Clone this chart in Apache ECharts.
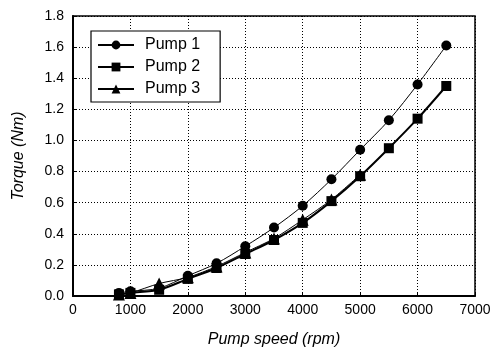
<!DOCTYPE html>
<html>
<head>
<meta charset="utf-8">
<script src="https://cdn.jsdelivr.net/npm/echarts@6/dist/echarts.min.js"></script>
<style>
  html, body { margin: 0; padding: 0; background: #fff; }
  #chart { width: 497px; height: 349px; }
</style>
</head>
<body>
<div id="chart"></div>
<script>
  // pump speed (rpm)
  const speed = [800, 1000, 1500, 2000, 2500, 3000, 3500, 4000, 4500, 5000, 5500, 6000, 6500]
  // torque (Nm)
  const pump1 = [0.02, 0.03, 0.05, 0.13, 0.21, 0.32, 0.44, 0.58, 0.75, 0.94, 1.13, 1.36, 1.61]
  const pump2 = [0.01, 0.02, 0.04, 0.11, 0.18, 0.27, 0.36, 0.47, 0.61, 0.77, 0.95, 1.14, 1.35]
  const pump3 = [0.01, 0.02, 0.08, 0.12, 0.19, 0.28, 0.37, 0.49, 0.62, 0.78]

  const names = ['Pump 1', 'Pump 2', 'Pump 3']
  const symbols = ['circle', 'rect', 'triangle']
  const widths = [1, 2, 1]

  function pairs(ys) {
    return ys.map(function (y, i) { return [speed[i], y] })
  }

  const chart = echarts.init(document.getElementById('chart'))
  const font = 'Liberation Sans, Arial, sans-serif'
  const dots = { color: '#000', type: [1, 2], width: 1 }

  chart.setOption({
    animation: false,
    backgroundColor: '#fff',
    textStyle: { fontFamily: font, color: '#000' },
    grid: {
      left: 73,
      right: 22,
      top: 16,
      bottom: 53,
      outerBoundsMode: 'none',
      containLabel: false,
      show: true,
      borderColor: '#000',
      borderWidth: 1.5
    },
    legend: {
      orient: 'vertical',
      left: 91,
      top: 31,
      padding: [6, 20, 5, 6],
      itemGap: 6,
      itemWidth: 36,
      itemHeight: 11,
      borderColor: '#000',
      borderWidth: 1.2,
      backgroundColor: '#fff',
      textStyle: { fontSize: 16, color: '#000', fontFamily: font, padding: [0, 0, 0, 6] },
      data: names
    },
    xAxis: {
      type: 'value',
      min: 0,
      max: 7000,
      interval: 1000,
      name: 'Pump speed (rpm)',
      nameLocation: 'middle',
      nameGap: 36,
      nameTextStyle: { fontSize: 16, fontStyle: 'italic', color: '#000' },
      axisLine: { lineStyle: { color: '#000', width: 2 } },
      axisTick: { inside: true, length: 4, lineStyle: { color: '#000' } },
      axisLabel: {
        fontSize: 14,
        color: '#000',
        margin: 7,
        formatter: function (v) { return String(v) }
      },
      splitLine: { lineStyle: dots }
    },
    yAxis: {
      type: 'value',
      min: 0,
      max: 1.8,
      interval: 0.2,
      name: 'Torque (Nm)',
      nameLocation: 'middle',
      nameGap: 46,
      nameTextStyle: { fontSize: 16, fontStyle: 'italic', color: '#000' },
      axisLine: { lineStyle: { color: '#000', width: 2 } },
      axisTick: { inside: true, length: 4, lineStyle: { color: '#000' } },
      axisLabel: {
        fontSize: 14,
        color: '#000',
        margin: 9,
        formatter: function (v) { return v.toFixed(1) }
      },
      splitLine: { lineStyle: dots }
    },
    series: [pump1, pump2, pump3].map(function (ys, k) {
      return {
        name: names[k],
        type: 'line',
        data: pairs(ys),
        symbol: symbols[k],
        symbolSize: k === 2 ? 12 : 10,
        smooth: 0.3,
        itemStyle: { color: '#000' },
        lineStyle: { color: '#000', width: widths[k] }
      }
    })
  })
</script>
</body>
</html>
